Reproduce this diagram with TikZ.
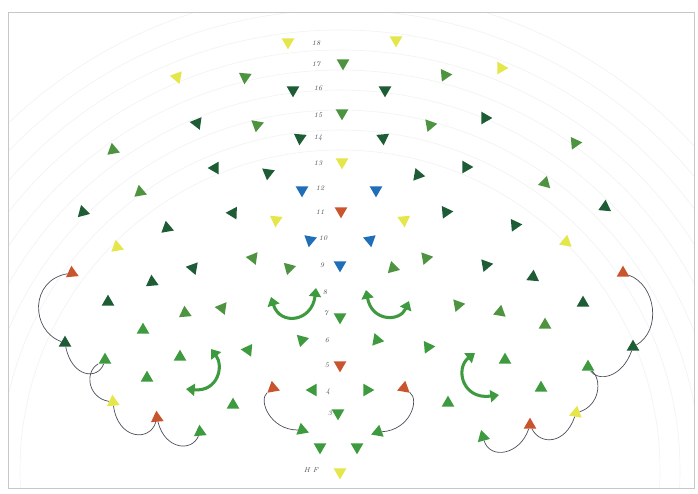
\documentclass[tikz,border=0pt]{standalone}
\usetikzlibrary{arrows.meta,shapes.geometric}
\definecolor{TDark}{HTML}{1E5C35}
\definecolor{TMid}{HTML}{4E9440}
\definecolor{TGreen}{HTML}{3E9A3E}
\definecolor{TYellow}{HTML}{E4E64A}
\definecolor{TRed}{HTML}{C9552F}
\definecolor{TBlue}{HTML}{1F6EB8}
\definecolor{TInk}{HTML}{4A4F5A}
\tikzset{
  tri/.style={regular polygon,regular polygon sides=3,minimum size=4.4mm,inner sep=0pt},
  num/.style={font=\fontsize{6}{7}\selectfont\itshape,text=black!70,inner sep=0.5pt},
  chain/.style={draw=TInk,line width=0.6pt},
  swing/.style={draw=TGreen,line width=2.6pt,
                {Triangle[length=2.6mm,width=3.6mm]}-{Triangle[length=2.6mm,width=3.6mm]}},
  ring/.style={draw=black!5,line width=0.5pt},
  frame/.style={draw=black!22,line width=0.5pt},
}
\begin{document}
\begin{tikzpicture}[x=0.03cm,y=-0.03cm]
  \useasboundingbox (0,0) rectangle (698,493);
  \fill[white] (0,0) rectangle (698,493);

  % faint rings behind the field
  \begin{scope}
    \clip (8,12) rectangle (694,488);
    \foreach \r in {320,340,...,480}
      \draw[ring] (340,470) circle[radius=\r];
  \end{scope}
  \draw[frame] (8,12) rectangle (694,488);

  % triangles: name / x / y / pointing direction
  \foreach \n/\x/\y/\d in {1/288/42/270, 2/396/40/270, 9/342/162/270, 13/276/220/265,
      14/404/220/275, 33/340/472/270, 34/177/77/170, 45/117/247/100, 61/113/402/95,
      66/501/68/0, 78/566/242/80, 97/576/413/80}
    \node[tri,fill=TYellow,rotate=\d-90] (t\n) at (\x,\y) {};
  \foreach \n/\x/\y/\d in {10/302/190/270, 11/376/190/270, 15/310/240/260,
      16/370/240/280, 17/340/265/270}
    \node[tri,fill=TBlue,rotate=\d-90] (t\n) at (\x,\y) {};
  \foreach \n/\x/\y/\d in {12/341/211/270, 23/340/365/270, 24/273/388/100,
      25/404/388/80, 48/72/273/95, 63/157/418/95, 83/623/273/90, 98/530/425/90}
    \node[tri,fill=TRed,rotate=\d-90] (t\n) at (\x,\y) {};
  \foreach \n/\x/\y/\d in {4/293/90/270, 5/385/90/270, 7/300/138/265, 8/383/138/275,
      36/197/123/172, 39/215/168/180, 40/268/173/262, 42/83/212/105, 43/233/213/178,
      44/167/228/100, 47/193/268/170, 49/152/282/95, 50/108/302/90, 54/65/343/90,
      67/485/118/0, 70/418/175/350, 71/466/167/0, 74/446/212/5, 75/605/207/85,
      77/515/225/5, 80/486/265/10, 82/533/277/85, 87/583/303/90, 96/633/347/90}
    \node[tri,fill=TDark,rotate=\d-90] (t\n) at (\x,\y) {};
  \foreach \n/\x/\y/\d in {3/343/63/270, 6/342/113/270, 18/289/268/255, 19/393/268/345,
      35/245/77/265, 37/257/125/260, 38/113/150/100, 41/140/192/100, 46/253/258/172,
      51/185/313/95, 52/222/308/172, 65/445/75/5, 68/430/125/10, 69/575/143/5,
      72/545/183/75, 79/426/258/10, 85/458/305/10, 86/500/312/80, 88/545/325/90}
    \node[tri,fill=TMid,rotate=\d-90] (t\n) at (\x,\y) {};
  \foreach \n/\x/\y/\d in {20/340/317/270, 21/302/340/255, 22/377/340/350,
      26/313/390/180, 27/367/390/0, 28/338/413/270, 29/302/430/100, 30/378/432/80,
      31/320/447/270, 32/357/447/270, 55/143/330/90, 56/105/360/90, 57/180/357/90,
      59/248/350/175, 60/147/378/90, 62/233/405/90, 64/200/432/95, 89/428/347/5,
      92/505/360/90, 93/448/403/90, 94/541/388/90, 95/588/367/90, 99/483/437/105}
    \node[tri,fill=TGreen,rotate=\d-90] (t\n) at (\x,\y) {};

  % row numbers
  \foreach \t/\x/\y in {18/316/43, 17/316/64, 16/318/88, 15/318/115, 14/318/138,
      13/318/163, 12/320/188, 11/320/212, 10/323/238, 9/322/265, 8/325/292,
      7/326/313, 6/327/340, 5/327/365, 4/328/392, 3/330/413}
    \node[num] (n\t) at (\x,\y) {\t};
  \node[num] (nhf) at (311,470) {H F};

  % thin scalloped chains
  \draw[chain] (t54) .. controls (30,330) and (30,280) .. (t48);
  \draw[chain] (t54) .. controls (72,378) and (98,380) .. (t56);
  \draw[chain] (t56) .. controls (84,372) and (88,398) .. (t61);
  \draw[chain] (t61) .. controls (118,440) and (150,442) .. (t63);
  \draw[chain] (t63) .. controls (165,450) and (192,452) .. (t64);
  \draw[chain] (t29) .. controls (270,430) and (258,400) .. (t24);
  \draw[chain] (t30) .. controls (410,430) and (420,400) .. (t25);
  \draw[chain] (t96) .. controls (662,330) and (656,285) .. (t83);
  \draw[chain] (t96) .. controls (622,378) and (598,382) .. (t95);
  \draw[chain] (t95) .. controls (602,380) and (600,405) .. (t97);
  \draw[chain] (t97) .. controls (565,445) and (540,445) .. (t98);
  \draw[chain] (t98) .. controls (520,455) and (490,460) .. (t99);

  % thick green swings
  \coordinate (uA1) at (271,297); \coordinate (uA2) at (316,288);
  \coordinate (uB1) at (366,290); \coordinate (uB2) at (409,301);
  \coordinate (uC1) at (186,389); \coordinate (uC2) at (211,349);
  \coordinate (uD1) at (475,353); \coordinate (uD2) at (499,395);
  \draw[swing] (uA1) .. controls (280,326) and (312,322) .. (uA2);
  \draw[swing] (uB1) .. controls (372,322) and (400,322) .. (uB2);
  \draw[swing] (uC1) .. controls (218,392) and (224,366) .. (uC2);
  \draw[swing] (uD1) .. controls (455,368) and (462,400) .. (uD2);
\end{tikzpicture}
\end{document}
